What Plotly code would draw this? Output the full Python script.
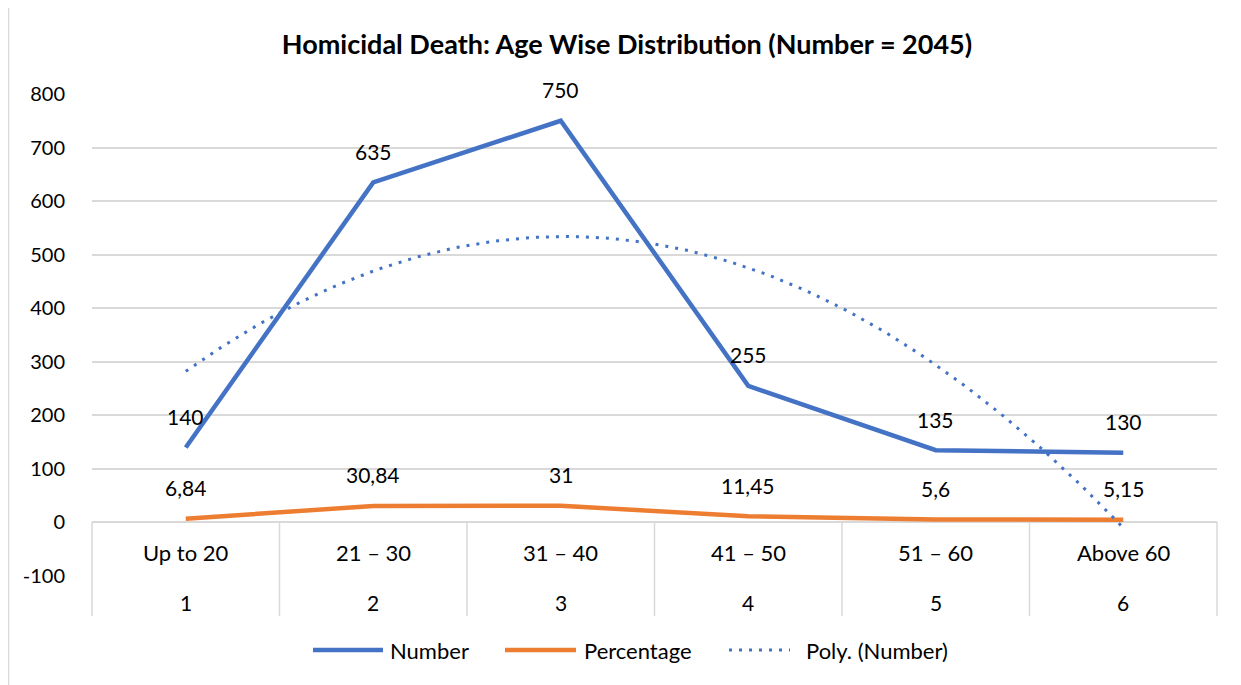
import plotly.graph_objects as go
import numpy as np

# ---------------- data ----------------
categories = ["Up to 20", "21 – 30", "31 – 40", "41 – 50", "51 – 60", "Above 60"]
positions = [1, 2, 3, 4, 5, 6]
number = [140, 635, 750, 255, 135, 130]
percentage = [6.84, 30.84, 31, 11.45, 5.6, 5.15]
y_ticks = [-100, 0, 100, 200, 300, 400, 500, 600, 700, 800]
y_tick_text = [str(v) for v in y_ticks]
title_text = "Homicidal Death: Age Wise Distribution (Number = 2045)"

# polynomial (order 2) trendline of the Number series, as Excel does
coef = np.polyfit(positions, number, 2)
trend_x = np.linspace(positions[0], positions[-1], 121)
trend_y = np.polyval(coef, trend_x)

BLUE = "#4472C4"
ORANGE = "#ED7D31"
GRID = "#D9D9D9"
FONT = "Lato, 'Open Sans', sans-serif"
TXT = "#000000"
DOTS = "3px,7px"

# page is offset by the 8px body margin of the html page
OFF = 8
W, H = 1241 - OFF, 685 - OFF
# plot area in page pixels: x 92..1217, y 94..576
L, R, T, B = 92 - OFF, 1241 - 1217, 94 - OFF, 685 - 576
pw = W - L - R
ph = H - T - B


def px_x(p):
    # page pixel -> paper x
    return (p - OFF - L) / pw


def px_y(p):
    # page pixel -> paper y
    return (H - B - (p - OFF)) / ph


fig = go.Figure()
fig.add_trace(go.Scatter(x=positions, y=number, mode="lines", name="Number",
                         line=dict(color=BLUE, width=4.5), showlegend=False))
fig.add_trace(go.Scatter(x=positions, y=percentage, mode="lines", name="Percentage",
                         line=dict(color=ORANGE, width=4.5), showlegend=False))
fig.add_trace(go.Scatter(x=trend_x, y=trend_y, mode="lines", name="Poly. (Number)",
                         line=dict(color=BLUE, width=3, dash=DOTS), showlegend=False))

annotations = []
# data labels
for xv, v in zip(positions, number):
    annotations.append(dict(x=xv, y=v, xref="x", yref="y", text=f"{v:g}", showarrow=False,
                            yshift=31, font=dict(family=FONT, size=21, color=TXT)))
for xv, v in zip(positions, percentage):
    annotations.append(dict(x=xv, y=v, xref="x", yref="y", text=f"{v:g}".replace(".", ","),
                            showarrow=False, yshift=31, font=dict(family=FONT, size=21, color=TXT)))

# category table labels
for xv, c in zip(positions, categories):
    annotations.append(dict(x=xv, y=px_y(552), xref="x", yref="paper", text=c, showarrow=False,
                            yanchor="middle", font=dict(family=FONT, size=22, color=TXT)))
    annotations.append(dict(x=xv, y=px_y(602), xref="x", yref="paper", text=str(xv), showarrow=False,
                            yanchor="middle", font=dict(family=FONT, size=21, color=TXT)))

shapes = []
# vertical separators of the category table
for i in range(len(positions) + 1):
    xp = i / len(positions)
    shapes.append(dict(type="line", xref="paper", yref="paper", x0=xp, x1=xp,
                       y0=px_y(522), y1=px_y(616), line=dict(color=GRID, width=1.5)))

# chart border
shapes.append(dict(type="rect", xref="paper", yref="paper", x0=px_x(8.5), x1=px_x(1260),
                   y0=px_y(700), y1=px_y(5), line=dict(color=GRID, width=1.5), layer="below"))

# custom legend
LY = px_y(650)
legend_items = [
    ("Number", BLUE, "solid", 4.5, 313, 383, 388),
    ("Percentage", ORANGE, "solid", 4.5, 505, 576, 582),
    ("Poly. (Number)", BLUE, DOTS, 3, 729, 790, 804),
]
for name, col, dash, wd, a, b, tx in legend_items:
    shapes.append(dict(type="line", xref="paper", yref="paper", x0=px_x(a), x1=px_x(b),
                       y0=LY, y1=LY, line=dict(color=col, width=wd, dash=dash)))
    annotations.append(dict(x=px_x(tx), y=LY, xref="paper", yref="paper", text=name,
                            showarrow=False, xanchor="left", yanchor="middle",
                            font=dict(family=FONT, size=22, color=TXT)))

fig.update_layout(
    width=W, height=H,
    margin=dict(l=L, r=R, t=T, b=B),
    paper_bgcolor="white", plot_bgcolor="white",
    title=dict(text="<b>" + title_text + "</b>", x=(627 - OFF) / W, xref="container", xanchor="center",
               y=1 - (45 - OFF) / H, yref="container", yanchor="middle",
               font=dict(family=FONT, size=27, color=TXT)),
    xaxis=dict(range=[0.5, 6.5], showgrid=False, zeroline=False, showticklabels=False,
               showline=False, ticks=""),
    yaxis=dict(range=[-100, 800], tickvals=y_ticks, ticktext=y_tick_text, showgrid=True,
               gridcolor=GRID, gridwidth=1.5,
               zeroline=False, showline=False, ticks="outside", ticklen=22,
               tickcolor="rgba(0,0,0,0)", tickfont=dict(family=FONT, size=20, color=TXT)),
    annotations=annotations,
    shapes=shapes,
    showlegend=False,
)

fig.write_html("out.html")
